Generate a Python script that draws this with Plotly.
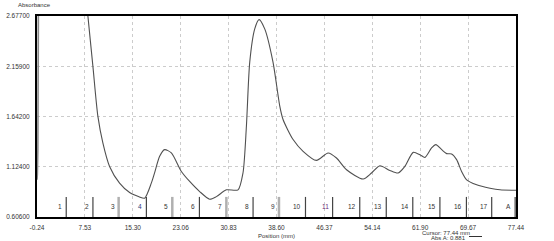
import plotly.graph_objects as go

# Absorbance profile (Position mm, Absorbance)
pos = [-0.24, -0.18, -0.1, 0.0, 0.5, 4.0, 7.0, 8.01, 8.82, 9.63, 10.44, 11.53, 13.15, 14.78, 16.3, 17.21,
       18.30, 18.83, 19.65, 20.46, 21.55, 23.17, 24.52, 26.14, 27.76, 28.85, 30.47, 32.36,
       33.17, 33.72, 34.26, 35.07, 35.77, 36.69, 38.04, 39.13, 39.66, 41.29, 42.91, 45.08,
       46.97, 48.33, 49.96, 52.65, 54.01, 55.36, 56.98, 58.33, 59.42, 60.77, 61.85, 62.67,
       63.75, 64.45, 65.38, 66.19, 67.00, 67.81, 68.62, 69.44, 71.06, 73.22, 74.84, 77.44]
absorb = [0.99, 1.05, 1.3, 3.0, 4.0, 4.4, 3.4, 2.68, 2.163, 1.645, 1.370, 1.127, 0.955, 0.858, 0.815, 0.800,
          0.955, 1.061, 1.231, 1.300, 1.266, 1.075, 0.972, 0.868, 0.789, 0.816, 0.886, 0.886,
          1.062, 1.542, 2.202, 2.544, 2.640, 2.544, 2.199, 1.749, 1.611, 1.404, 1.283, 1.189,
          1.266, 1.214, 1.093, 0.997, 1.059, 1.134, 1.086, 1.059, 1.127, 1.272, 1.248, 1.220,
          1.318, 1.352, 1.300, 1.259, 1.256, 1.197, 1.075, 0.989, 0.938, 0.903, 0.886, 0.881]
SPIKE_END = 6  # index where the initial steep spike ends

# Band markers
marker_pos = [4.50, 8.83, 13.0, 17.5, 21.7, 26.1, 30.47, 34.8, 39.0, 43.3, 47.7, 52.1,
              56.4, 60.7, 65.1, 69.4, 73.5, 77.3]
marker_lbl = ["1", "2", "3", "4", "5", "6", "7", "8", "9", "10", "11", "12",
              "13", "14", "15", "16", "17", "A"]
marker_gray = ["3", "5", "7", "9"]

x_ticks = [-0.24, 7.53, 15.30, 23.06, 30.83, 38.60, 46.37, 54.14, 61.90, 69.67, 77.44]
x_tick_text = ["-0.24", "7.53", "15.30", "23.06", "30.83", "38.60", "46.37", "54.14",
               "61.90", "69.67", "77.44"]
y_ticks = [0.606, 1.124, 1.642, 2.159, 2.677]
y_tick_text = ["0.60600", "1.12400", "1.64200", "2.15900", "2.67700"]

marker_base = 0.606
marker_top = 0.813

fig = go.Figure()

# markers: dark thin and gray thick
for gray in (False, True):
    xs, ys = [], []
    for p, l in zip(marker_pos, marker_lbl):
        if (l in marker_gray) == gray:
            xs += [p, p, None]
            ys += [marker_base, marker_top, None]
    fig.add_trace(go.Scatter(x=xs, y=ys, mode="lines", hoverinfo="skip",
                             line=dict(color="#b0b0b0" if gray else "#444444",
                                       width=2.5 if gray else 1.2),
                             showlegend=False))

# steep initial spike (linear) and the rest of the profile (smooth)
fig.add_trace(go.Scatter(x=pos[:SPIKE_END + 1], y=absorb[:SPIKE_END + 1], mode="lines",
                         line=dict(color="#8a8a8a", width=1.6), showlegend=False))
fig.add_trace(go.Scatter(x=pos[SPIKE_END - 1:], y=absorb[SPIKE_END - 1:], mode="lines",
                         line=dict(color="#505050", width=1.1, shape="spline", smoothing=0.7),
                         showlegend=False))

lbl_colors = {"4": "#2a3a7a", "11": "#6a2a7a"}
for p, l in zip(marker_pos, marker_lbl):
    fig.add_annotation(x=p, y=0.71, xref="x", yref="y", text=l, showarrow=False,
                       xanchor="right", xshift=-2,
                       font=dict(size=6.5, color=lbl_colors.get(l, "#333333"),
                                 family="Liberation Sans, Arial"))

font_small = dict(size=6.5, color="#333333", family="Liberation Sans, Arial")

fig.update_layout(
    width=554, height=241,
    margin=dict(l=37, r=38, t=16, b=24, pad=0),
    paper_bgcolor="white", plot_bgcolor="white",
    xaxis=dict(range=[-0.24, 77.44], tickvals=x_ticks, ticktext=x_tick_text,
               showgrid=True, gridcolor="#cccccc", griddash="dot", gridwidth=1,
               zeroline=False, showline=True, linecolor="black", linewidth=2,
               mirror=True, ticks="", tickfont=font_small, ticklabelstandoff=3,
               automargin=False),
    yaxis=dict(range=[0.606, 2.677], tickvals=y_ticks, ticktext=y_tick_text,
               showgrid=True, gridcolor="#cccccc", griddash="dot", gridwidth=1,
               zeroline=False, showline=True, linecolor="black", linewidth=2,
               mirror=True, ticks="", tickfont=font_small, ticklabelstandoff=4,
               automargin=False),
)

fig.add_annotation(x=-0.005, y=1.0, xref="paper", yref="paper", yshift=11,
                   text="Absorbance", showarrow=False, xanchor="center", yanchor="middle",
                   font=dict(size=6, color="#333333", family="Liberation Sans, Arial"))
fig.add_annotation(x=0.5, y=0, xref="paper", yref="paper", yshift=-14,
                   text="Position (mm)", showarrow=False, xanchor="center", yanchor="top",
                   font=dict(size=6, color="#333333", family="Liberation Sans, Arial"))
fig.add_annotation(x=(472 - 37) / 479, y=0, xref="paper", yref="paper", yshift=-11,
                   text="Cursor: 77.44 mm", showarrow=False, xanchor="right", yanchor="top",
                   font=dict(size=6, color="#333333", family="Liberation Sans, Arial"))
fig.add_annotation(x=(468 - 37) / 479, y=0, xref="paper", yref="paper", yshift=-16,
                   text="Abs A: 0.881", showarrow=False, xanchor="right", yanchor="top",
                   font=dict(size=6, color="#333333", family="Liberation Sans, Arial"))
fig.add_shape(type="line", xref="paper", yref="paper",
              x0=(469 - 37) / 479, x1=(482 - 37) / 479,
              y0=(217 - 236.5) / 201, y1=(217 - 236.5) / 201,
              line=dict(color="#333333", width=1))

fig.write_html("out.html")
